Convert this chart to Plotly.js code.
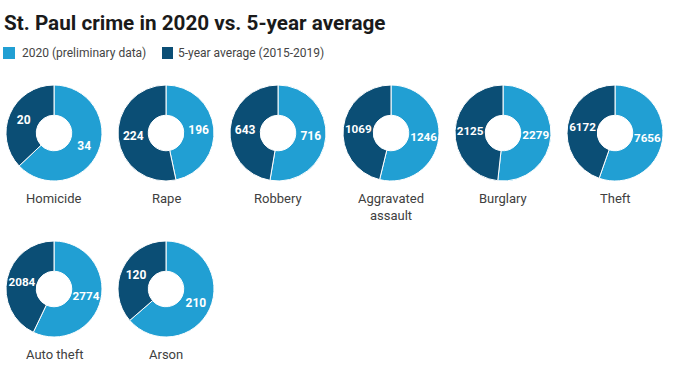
<!DOCTYPE html>
<html>
<head>
<meta charset="utf-8">
<script src="https://cdn.plot.ly/plotly-3.0.1.min.js"></script>
<style>html,body{margin:0;padding:0;background:#fff;}#chart{width:678px;height:381px;}</style>
</head>
<body>
<div id="chart"></div>
<script>
// Data
const categories = ['Homicide','Rape','Robbery','Aggravated<br>assault','Burglary','Theft','Auto theft','Arson'];
const values2020 = [34,196,716,1246,2279,7656,2774,210];
const avg5yr = [20,224,643,1069,2125,6172,2084,120];
const seriesNames = ['2020 (preliminary data)','5-year average (2015-2019)'];
const colors = ['#219fd3','#0b4e75'];

const W = 678, H = 381;
const R = 48;
const colX = [54,166,278,391,503,615];
const rowY = [133,289];
const labelY = [198,354];

const traces = [];
const annotations = [];
categories.forEach((cat,i)=>{
  const col = i % 6, row = Math.floor(i/6);
  const cx = colX[col], cy = rowY[row];
  traces.push({
    type:'pie',
    labels: seriesNames,
    values: [values2020[i], avg5yr[i]],
    sort:false,
    direction:'clockwise',
    rotation:0,
    hole:0.37,
    textinfo:'value',
    textposition:'inside',
    insidetextorientation:'horizontal',
    textfont:{family:'Roboto', size:12, color:'#ffffff', weight:'bold'},
    marker:{colors:colors, line:{color:'#ffffff', width:1}},
    domain:{x:[(cx-R)/W,(cx+R)/W], y:[1-(cy+R)/H, 1-(cy-R)/H]},
    showlegend:false,
    hoverinfo:'none'
  });
  annotations.push({
    text:cat, x:cx/W, y:1-labelY[row]/H, xref:'paper', yref:'paper',
    xanchor:'center', yanchor:'top', yshift:9, showarrow:false,
    font:{family:'Roboto', size:13, color:'#404040'}, align:'center'
  });
});

// legend (manual)
const shapes = [
  {type:'rect', xref:'paper', yref:'paper', x0:3/W, x1:15/W, y0:1-59/H, y1:1-47/H, fillcolor:colors[0], line:{width:0}},
  {type:'rect', xref:'paper', yref:'paper', x0:162/W, x1:173/W, y0:1-59/H, y1:1-47/H, fillcolor:colors[1], line:{width:0}}
];
annotations.push({text:seriesNames[0], x:20/W, y:1-53/H, xref:'paper', yref:'paper', xanchor:'left', yanchor:'middle', showarrow:false, font:{family:'Roboto', size:12, color:'#444444'}});
annotations.push({text:seriesNames[1], x:176/W, y:1-53/H, xref:'paper', yref:'paper', xanchor:'left', yanchor:'middle', showarrow:false, font:{family:'Roboto', size:12, color:'#444444'}});

const layout = {
  width:W, height:H,
  margin:{l:0,r:0,t:0,b:0},
  paper_bgcolor:'#ffffff',
  title:{text:'<b>St. Paul crime in 2020 vs. 5-year average</b>', x:4/W, xanchor:'left', xref:'paper', y:1-23/H, yref:'container', yanchor:'middle', font:{family:'Roboto', size:20.7, color:'#1a1a1a'}},
  annotations:annotations,
  shapes:shapes,
  showlegend:false
};
Plotly.newPlot('chart', traces, layout, {staticPlot:true, displayModeBar:false});
</script>
</body>
</html>
